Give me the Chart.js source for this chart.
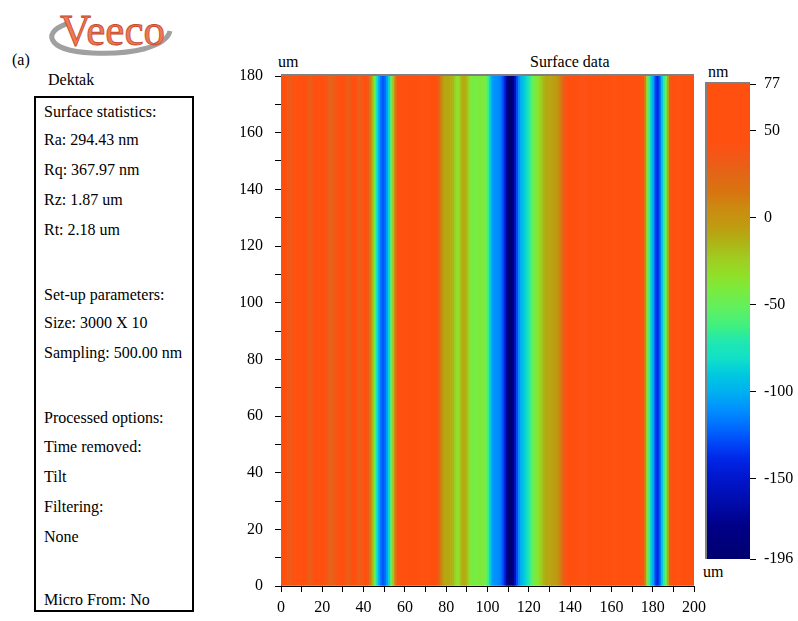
<!DOCTYPE html>
<html>
<head>
<meta charset="utf-8">
<script src="https://cdn.jsdelivr.net/npm/chart.js@4.4.1/dist/chart.umd.min.js"></script>
<style>
  body { margin: 0; background: #fff; font-family: "Liberation Serif", "Times New Roman", Times, serif; }
  #page { position: relative; width: 798px; height: 621px; overflow: hidden; }
  .t { position: absolute; font-size: 16px; line-height: 18px; white-space: nowrap; color: #000; }
  #stats { position: absolute; left: 34px; top: 96px; width: 156px; height: 512px; border: 2px solid #000; }
  canvas { position: absolute; }
</style>
</head>
<body>
<div id="page">
  <svg style="position:absolute;left:40px;top:4px" width="140" height="56">
    <path d="M 30 19 C 2 26, 4 47, 52 49 C 92 51, 126 43, 130 27" stroke="#a0a0a0" stroke-width="5" fill="none"/>
    <text x="20" y="41" style="font-family:'Liberation Serif','Times New Roman',Times,serif" font-size="44" fill="#EC7A55" stroke="#C8462A" stroke-width="0.8"
          textLength="105" lengthAdjust="spacingAndGlyphs">Veeco</text>
  </svg>
  <div class="t" style="left:12px;top:51px">(a)</div>
  <div class="t" style="left:48px;top:71px">Dektak</div>

  <div id="stats"></div>
  <div id="lines"></div>

  <div class="t" style="left:278px;top:53px">um</div>
  <div class="t" style="left:530px;top:53px">Surface data</div>
  <div class="t" style="left:708px;top:63px">nm</div>
  <div class="t" style="left:703px;top:563px">um</div>

  <canvas id="heat" width="520" height="581" style="left:200px;top:40px"></canvas>
  <canvas id="cbar" width="108" height="540" style="left:690px;top:40px"></canvas>
</div>

<script>
// panel text
const statLines = [
  ["Surface statistics:", 112],
  ["Ra: 294.43 nm", 140],
  ["Rq: 367.97 nm", 170],
  ["Rz: 1.87 um", 200],
  ["Rt: 2.18 um", 230],
  ["Set-up parameters:", 295],
  ["Size: 3000 X 10", 323],
  ["Sampling: 500.00 nm", 353],
  ["Processed options:", 418],
  ["Time removed:", 447],
  ["Tilt", 477],
  ["Filtering:", 507],
  ["None", 537],
  ["Micro From: No", 600]
];

// surface height (nm) along x, one value per 1 um column (centre at i + 0.5)
const heightNm = [
  58, 56, 50, 35, 30, 40, 56, 58, 58, 57,
  56, 55, 48, 32, 30, 38, 52, 57, 58, 56,
  55, 50, 40, 30, 28, 30, 34, 42, 52, 55,
  48, 36, 30, 32, 45, 52, 42, 32, 30, 38,
  55, 45, 30, 10, -15, -45, -75, -100, -118, -125,
  -120, -105, -85, -55, -20, 10, 40, 55, 58, 60,
  60, 60, 60, 60, 60, 60, 60, 60, 60, 60,
  60, 60, 60, 58, 55, 45, 28, 12, 0, -8,
  -10, -10, -12, -15, -25, -35, -30, -15, -10, -12,
  -20, -35, -42, -45, -42, -40, -40, -40, -42, -50,
  -65, -88, -105, -110, -110, -112, -115, -125, -140, -170,
  -190, -196, -182, -155, -128, -110, -100, -92, -86, -78,
  -68, -55, -45, -40, -35, -28, -20, -14, -10, -8,
  -8, -6, -5, -4, 2, 12, 22, 35, 45, 52,
  58, 60, 60, 60, 60, 60, 60, 60, 60, 60,
  60, 60, 60, 60, 60, 60, 60, 60, 60, 60,
  60, 60, 60, 60, 60, 60, 60, 60, 60, 60,
  60, 60, 60, 60, 60, 45, 10, -30, -65, -90,
  -105, -130, -140, -125, -95, -70, -45, -10, 30, 52,
  58, 60, 60, 60, 60, 60, 60, 60, 60, 60
];

const scanLength = [0, 180];            // um, y extent of every column
const xTickLabels = [0, 20, 40, 60, 80, 100, 120, 140, 160, 180, 200];
const barTicks = [77, 50, 0, -50, -100, -150, -196];
const zMin = -196, zMax = 77;

// colour map
const cmap = [
  [-196, "#000070"], [-177, "#000088"], [-158, "#0010B8"], [-148, "#0018D0"],
  [-138, "#0028E8"], [-129, "#0048F8"], [-119, "#0070FF"], [-110, "#0090FF"],
  [-100, "#00B0F0"], [-90, "#00C8E0"], [-81, "#10E0C8"], [-71, "#20E8B0"],
  [-62, "#40F080"], [-52, "#60F060"], [-42, "#78EC40"], [-33, "#90E028"],
  [-23, "#A0CC20"], [-13, "#B0B015"], [-4, "#C09A10"], [6, "#CC8A10"],
  [15, "#D87410"], [25, "#E26616"], [35, "#F25818"], [44, "#FF5010"], [77, "#FF5010"]
];

function hex(c) { return [1, 3, 5].map(i => parseInt(c.substr(i, 2), 16)); }
function colorFor(v) {
  if (v <= cmap[0][0]) return cmap[0][1];
  for (let i = 1; i < cmap.length; i++) {
    if (v <= cmap[i][0]) {
      const [v0, c0] = cmap[i - 1], [v1, c1] = cmap[i];
      const t = (v - v0) / (v1 - v0);
      const a = hex(c0), b = hex(c1);
      const m = a.map((x, k) => Math.round(x + (b[k] - x) * t));
      return "rgb(" + m.join(",") + ")";
    }
  }
  return cmap[cmap.length - 1][1];
}

const lines = document.getElementById("lines");
statLines.forEach(([txt, y]) => {
  const d = document.createElement("div");
  d.className = "t";
  d.style.left = "44px";
  d.style.top = (y - 9) + "px";
  d.textContent = txt;
  lines.appendChild(d);
});

const serif = { family: "'Liberation Serif', 'Times New Roman', Times, serif", size: 16 };

// grey frame on top (and left for the colour bar)
const frame = {
  id: "frame",
  afterDatasetsDraw(chart, args, opts) {
    const { ctx, chartArea: a } = chart;
    ctx.save();
    ctx.strokeStyle = "#808080";
    ctx.lineWidth = 2;
    ctx.beginPath();
    ctx.moveTo(a.left, a.top - 1);
    ctx.lineTo(a.right, a.top - 1);
    if (opts.left) {
      ctx.moveTo(a.left + 1, a.top - 1);
      ctx.lineTo(a.left + 1, a.bottom);
    }
    ctx.stroke();
    ctx.restore();
  }
};

Chart.defaults.color = "#000";

new Chart(document.getElementById("heat"), {
  type: "bar",
  data: {
    datasets: [{
      data: heightNm.map((v, i) => ({ x: i + 0.5, y: scanLength })),
      backgroundColor: heightNm.map(colorFor),
      borderWidth: 0,
      barPercentage: 1,
      categoryPercentage: 1,
      grouped: false
    }]
  },
  options: {
    responsive: false,
    animation: false,
    devicePixelRatio: 1,
    layout: { padding: { left: 41, right: 26, top: 36, bottom: 0 } },
    plugins: { legend: { display: false }, tooltip: { enabled: false }, frame: {} },
    scales: {
      x: {
        type: "linear",
        min: 0,
        max: 200,
        offset: false,
        afterFit: s => { s.height = 35; },
        afterBuildTicks: s => {
          s.ticks = [];
          for (let v = 0; v <= 200; v += 10) s.ticks.push({ value: v });
        },
        ticks: {
          font: serif,
          padding: 6,
          maxRotation: 0,
          autoSkip: false,
          callback: v => (xTickLabels.includes(v) ? v : "")
        },
        grid: { drawOnChartArea: false, tickLength: 6, color: "#000", offset: false },
        border: { color: "#000" }
      },
      y: {
        min: 0,
        max: 180,
        afterFit: s => { s.width = 40; },
        ticks: {
          stepSize: 10,
          font: serif,
          padding: 12,
          autoSkip: false,
          callback: v => (v % 20 === 0 ? v : "")
        },
        grid: { drawOnChartArea: false, tickLength: 6, color: "#000" },
        border: { color: "#000" }
      }
    }
  },
  plugins: [frame]
});

new Chart(document.getElementById("cbar"), {
  type: "bar",
  data: {
    labels: [""],
    datasets: [{
      data: [[zMin, zMax]],
      backgroundColor: ctx => {
        const a = ctx.chart.chartArea;
        if (!a) return "#888";
        const g = ctx.chart.ctx.createLinearGradient(0, a.bottom, 0, a.top);
        cmap.forEach(([v, c]) => g.addColorStop((v - zMin) / (zMax - zMin), c));
        return g;
      },
      borderWidth: 0,
      barPercentage: 1,
      categoryPercentage: 1
    }]
  },
  options: {
    responsive: false,
    animation: false,
    devicePixelRatio: 1,
    layout: { padding: { left: 15, right: 0, top: 44, bottom: 21 } },
    plugins: { legend: { display: false }, tooltip: { enabled: false }, frame: { left: true } },
    scales: {
      x: { display: false },
      y: {
        position: "right",
        min: zMin,
        max: zMax,
        afterFit: s => { s.width = 48; },
        afterBuildTicks: s => { s.ticks = barTicks.map(v => ({ value: v })); },
        ticks: { font: serif, padding: 8, autoSkip: false },
        grid: { drawOnChartArea: false, tickLength: 6, color: "#000", offset: false },
        border: { display: false }
      }
    }
  },
  plugins: [frame]
});
</script>
</body>
</html>
